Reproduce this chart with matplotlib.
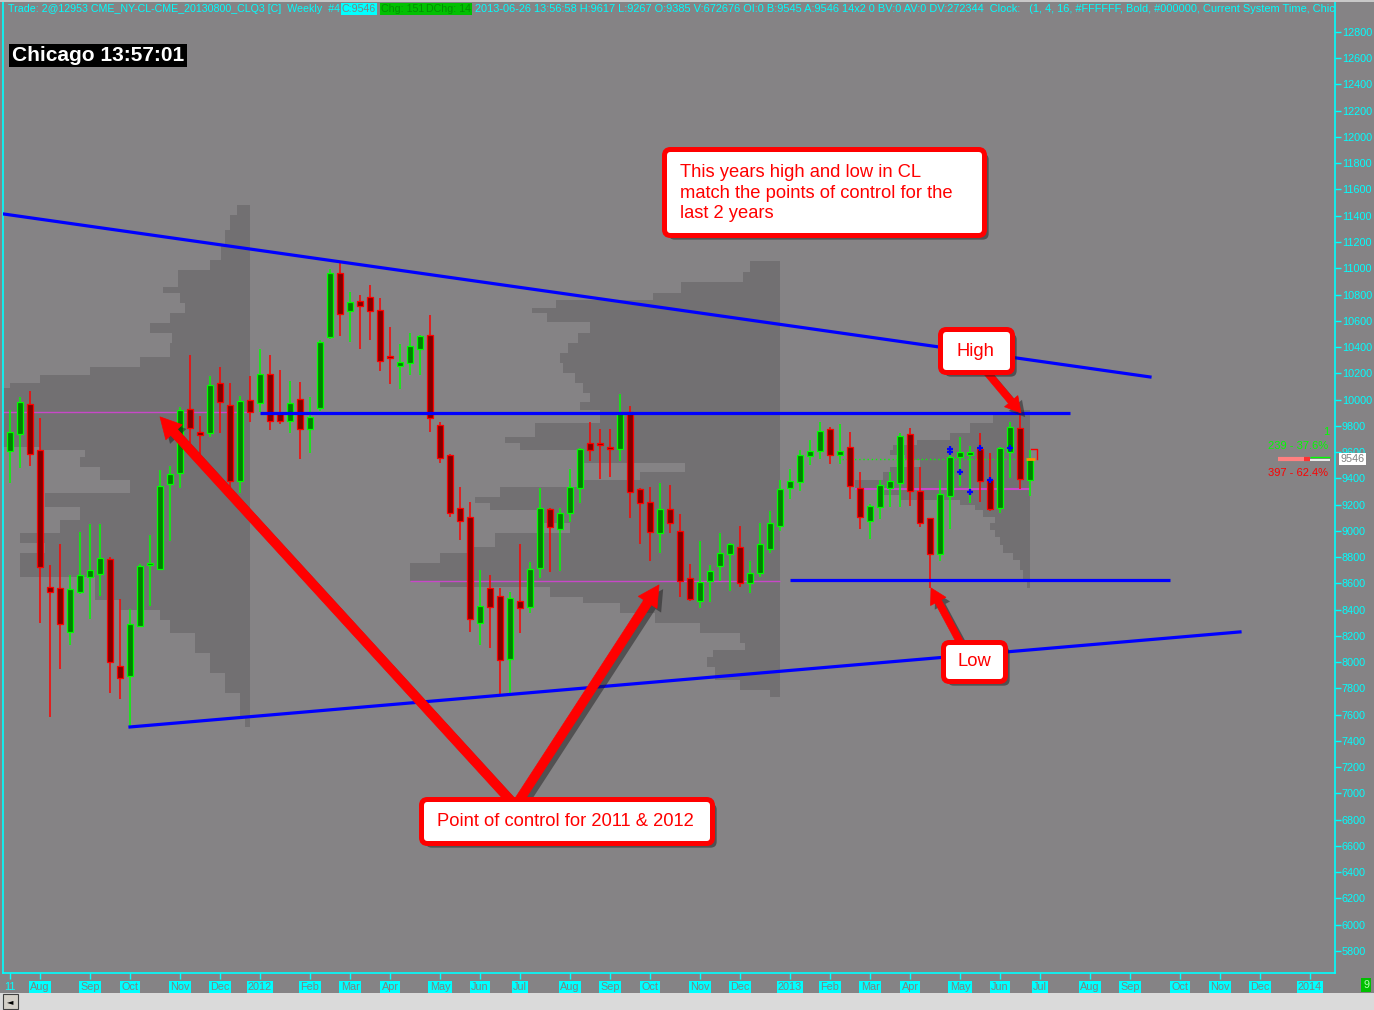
import numpy as np
import matplotlib
matplotlib.use("Agg")
import matplotlib.pyplot as plt
import matplotlib.patheffects as pe
from matplotlib.patches import Rectangle, FancyBboxPatch
from matplotlib.transforms import IdentityTransform, blended_transform_factory

plt.rcParams['font.family'] = ['Liberation Sans', 'DejaVu Sans']

W, H = 1374, 1010
BG = '#858385'
PROFILE = '#727072'
CYAN = '#00ffff'
UP_EDGE, UP_FILL = '#00ff00', '#008000'
DN_EDGE, DN_FILL = '#ff0000', '#800000'
BLUE = '#0000ff'
MAGENTA = '#c848c8'

# ---- weekly CL bars (prices x100), first bar = week of 2011-07-11 ----
opens = [9608, 9738, 9969, 9619, 8570, 8562, 8230, 8532, 8646, 8672,
         8783, 7968, 7895, 8273, 8740, 8710, 9355, 9438, 9926, 9751,
         9748, 10124, 9956, 9377, 9994, 9972, 10192, 9895, 9837, 10002,
         9776, 9933, 10474, 10962, 10672, 10748, 10779, 10680, 10330, 10253,
         10279, 10385, 10489, 9804, 9578, 9172, 9103, 8296, 8567, 8507,
         8022, 8466, 8418, 8715, 9164, 9014, 9134, 9324, 9667, 9667,
         9634, 9621, 9908, 9316, 9217, 8981, 9164, 9002, 8644, 8466,
         8618, 8733, 8824, 8880, 8606, 8682, 8859, 9040, 9324, 9370,
         9568, 9606, 9774, 9576, 9636, 9324, 9075, 9179, 9324, 9367,
         9736, 9301, 9096, 8821, 9268, 9560, 9576, 9621, 9388, 9172,
         9603, 9781, 9385]
highs = [9921, 10022, 10065, 9857, 8740, 8900, 8664, 8991, 9050, 9050,
         8799, 8481, 8405, 8748, 8969, 9464, 9490, 9946, 10340, 9878,
         10180, 10248, 10126, 10027, 10180, 10383, 10340, 10228, 10142, 10134,
         10022, 10454, 10992, 11038, 10820, 10800, 10873, 10771, 10556, 10423,
         10505, 10492, 10644, 9827, 9586, 9332, 9217, 8702, 8664, 8562,
         8537, 8900, 8760, 9324, 9175, 9177, 9471, 9629, 9827, 9774,
         9774, 10043, 9951, 9325, 9332, 9362, 9349, 9129, 8748, 8923,
         8740, 8981, 8905, 9037, 8771, 9057, 9151, 9388, 9469, 9616,
         9692, 9829, 9790, 9814, 9753, 9449, 9205, 9388, 9451, 9743,
         9786, 9489, 9100, 9388, 9590, 9718, 9647, 9743, 9591, 9641,
         9832, 9895, 9617]
lows = [9362, 9476, 9497, 8296, 7580, 7945, 8128, 8519, 8326, 8506,
        7763, 7717, 7514, 8270, 8430, 8700, 8923, 9329, 9672, 9565,
        9718, 9743, 9337, 9286, 9832, 9908, 9768, 9812, 9748, 9548,
        9591, 9916, 10462, 10484, 10441, 10383, 10456, 10220, 10116, 10078,
        10185, 10185, 9756, 9520, 9108, 8931, 8232, 8131, 8110, 7750,
        7750, 8220, 8377, 8644, 8689, 8694, 9070, 9210, 9535, 9398,
        9413, 9535, 9101, 8900, 8773, 8829, 8986, 8499, 8469, 8410,
        8461, 8621, 8545, 8575, 8529, 8651, 8829, 9002, 9245, 9304,
        9499, 9550, 9512, 9507, 9245, 9012, 8941, 9093, 9185, 9184,
        9190, 9032, 8568, 8771, 9014, 9342, 9215, 9223, 9150, 9134,
        9405, 9317, 9267]
closes = [9751, 9979, 9586, 8727, 8534, 8291, 8555, 8664, 8700, 8791,
          8000, 7880, 8288, 8733, 8752, 9344, 9436, 9918, 9781, 9728,
          10109, 9979, 9380, 9987, 9903, 10192, 9834, 9834, 9972, 9774,
          9870, 10436, 10962, 10652, 10741, 10710, 10672, 10294, 10320, 10284,
          10406, 10482, 9860, 9555, 9134, 9075, 8326, 8430, 8418, 8016,
          8486, 8410, 8707, 9172, 9027, 9139, 9337, 9621, 9614, 9654,
          9626, 9895, 9294, 9210, 8989, 9164, 9057, 8621, 8479, 8613,
          8697, 8829, 8898, 8600, 8682, 8898, 9062, 9317, 9378, 9576,
          9609, 9758, 9576, 9606, 9342, 9103, 9190, 9347, 9378, 9723,
          9304, 9063, 8827, 9278, 9560, 9598, 9598, 9383, 9164, 9629,
          9789, 9393, 9546]
weeks = np.arange(1, len(opens) + 1)

# month markers (week index of first bar in each month)
month_pos = [1, 4, 9, 13, 18, 22, 26, 31, 35, 39, 44, 48, 52, 57, 61, 65, 70, 74,
             79, 83, 87, 91, 96, 100, 104, 109, 113, 118, 122, 126, 131]
month_labels = ['11', 'Aug', 'Sep', 'Oct', 'Nov', 'Dec', '2012', 'Feb', 'Mar', 'Apr',
                'May', 'Jun', 'Jul', 'Aug', 'Sep', 'Oct', 'Nov', 'Dec', '2013', 'Feb',
                'Mar', 'Apr', 'May', 'Jun', 'Jul', 'Aug', 'Sep', 'Oct', 'Nov', 'Dec', '2014']

# ---- yearly volume profiles: price level -> width (in weeks) from year end ----
vp2011_price = [11482, 11406, 11292, 11178, 11063, 10987, 10858, 10812, 10736, 10660,
                10584, 10507, 10431, 10325, 10248, 10187, 10126, 10088, 10058, 9903,
                9639, 9616, 9563, 9487, 9388, 9289, 9182, 9083, 8984, 8908,
                8832, 8649, 8474, 8398, 8321, 8222, 8070, 7918, 7765, 7583, 7506]
vp2011_width = [0.5, 1.3, 2.0, 2.5, 2.9, 4.0, 7.2, 8.7, 7.0, 6.5,
                8.0, 10.0, 7.8, 8.0, 11.0, 16.0, 21.0, 24.0, 26.0, 27.0,
                26.0, 21.0, 16.5, 17.0, 15.0, 12.0, 20.5, 17.0, 19.0, 23.0,
                20.5, 23.0, 15.5, 13.0, 9.0, 8.0, 5.5, 4.0, 2.5, 1.0, 0.5]
vp2012_price = [11056, 10972, 10896, 10812, 10759, 10698, 10660, 10591, 10507, 10431,
                10355, 10279, 10203, 10126, 10050, 9982, 9921, 9822, 9715, 9670,
                9616, 9517, 9449, 9388, 9334, 9258, 9212, 9159, 9060, 8984,
                8877, 8832, 8755, 8618, 8573, 8497, 8451, 8375, 8298, 8222,
                8146, 8093, 8039, 7963, 7864, 7788, 7735]
vp2012_width = [0.7, 3.0, 3.7, 9.9, 12.7, 22.4, 24.8, 23.3, 19.0, 20.2,
                21.2, 22.0, 21.7, 20.5, 19.7, 19.0, 20.0, 18.0, 24.5, 27.5,
                26.0, 20.0, 9.5, 14.0, 20.0, 28.0, 30.5, 29.0, 24.0, 21.0,
                28.5, 30.7, 34.0, 37.0, 34.0, 23.0, 19.7, 16.0, 12.5, 8.0,
                4.0, 3.5, 6.7, 7.3, 6.5, 4.0, 1.0]
vp2013_price = [9921, 9883, 9822, 9746, 9692, 9654, 9616, 9578, 9540, 9487,
                9449, 9388, 9322, 9273, 9235, 9197, 9159, 9106, 9060, 9007,
                8953, 8892, 8832, 8778, 8702, 8626, 8565]
vp2013_width = [0.3, 1.0, 3.7, 6.0, 8.0, 11.3, 13.7, 14.0, 12.5, 11.0,
                14.0, 14.7, 17.5, 15.0, 13.0, 7.0, 5.5, 4.7, 3.5, 4.0,
                3.5, 3.0, 2.7, 1.7, 1.0, 0.7, 0.3]
year_end = {2011: 25, 2012: 78, 2013: 103}
poc = {2011: 9903, 2012: 8618, 2013: 9322}

# ---- drawn trend / level lines ----
upper_trend_x, upper_trend_y = [0.3, 115], [11414, 10172]
lower_trend_x, lower_trend_y = [13, 124], [7506, 8230]
high_level, high_span = 9896, (26, 107)
low_level, low_span = 8624, (79, 117)

# trade markers and last price
mark_k = [95, 95, 96, 97, 98, 99, 101]
mark_p = [9624, 9603, 9446, 9294, 9634, 9388, 9634]
last_price = 9546
buy_count, sell_count = 239, 397

fig = plt.figure(figsize=(W / 100, H / 100), dpi=100, facecolor=BG)
ax = fig.add_axes([3 / W, 37 / H, 1332 / W, 971 / H])
ax.set_facecolor(BG)
ax.set_xlim(0.3, 133.5)
ax.set_ylim(5632, 13028)

# volume profiles
for yr, pr, wd in ((2011, vp2011_price, vp2011_width),
                   (2012, vp2012_price, vp2012_width),
                   (2013, vp2013_price, vp2013_width)):
    end = year_end[yr]
    pr = np.asarray(pr, float)
    wd = np.asarray(wd, float)
    ax.fill_betweenx(pr, end - wd, end, step='pre', color=PROFILE, lw=0, zorder=1)
ax.hlines(poc[2011], 0.3, year_end[2011], colors=MAGENTA, lw=1, zorder=2)
ax.hlines(poc[2012], 41, year_end[2012], colors=MAGENTA, lw=1, zorder=2)
ax.hlines(poc[2013], 85.5, year_end[2013], colors=MAGENTA, lw=1.5, zorder=2)

# candles
for k, o, h, l, c in zip(weeks, opens, highs, lows, closes):
    up = c >= o
    edge = UP_EDGE if up else DN_EDGE
    fill = UP_FILL if up else DN_FILL
    ax.vlines(k, l, h, colors=edge, lw=1.1, zorder=3)
    bottom = min(o, c)
    height = max(abs(c - o), 12)
    ax.add_patch(Rectangle((k - 0.3, bottom), 0.6, height, fc=fill, ec=edge,
                           lw=0.9, zorder=3.1))

ax.plot(mark_k, mark_p, ls='none', marker='+', ms=4, mew=1.6, color=BLUE, zorder=4)
ax.hlines(last_price, 84.2, weeks[-1], colors=UP_EDGE, lw=1,
          linestyles=(0, (1, 2)), zorder=2.5)
ax.hlines(last_price, weeks[-1] - 0.45, weeks[-1] + 0.45, colors='#ff8c00', lw=2, zorder=4)
ax.plot([weeks[-1] + 0.07, weeks[-1] + 0.67, weeks[-1] + 0.67], [9621, 9621, 9549],
        color=DN_EDGE, lw=1, zorder=4)

# trend lines and levels
ax.plot(upper_trend_x, upper_trend_y, color=BLUE, lw=2.3, zorder=4.5)
ax.plot(lower_trend_x, lower_trend_y, color=BLUE, lw=2.3, zorder=4.5)
ax.hlines(high_level, *high_span, colors=BLUE, lw=2.3, zorder=4.5)
ax.hlines(low_level, *low_span, colors=BLUE, lw=2.3, zorder=4.5)

# buy / sell ratio readout on the right
tot = buy_count + sell_count
ax.text(132.9, 9750, '1', color=UP_EDGE, fontsize=8, ha='right', va='center', zorder=5)
ax.text(132.8, 9647, f'{buy_count} - {100 * buy_count / tot:.1f}%', color=UP_EDGE,
        fontsize=8, ha='right', va='center', zorder=5)
ax.text(132.8, 9441, f'{sell_count} - {100 * sell_count / tot:.1f}%', color=DN_EDGE,
        fontsize=8, ha='right', va='center', zorder=5)
bar_l, bar_r = 127.8, 133.0
split = bar_l + (bar_r - bar_l) * sell_count / tot
ax.hlines(last_price, bar_l, split, colors='#ff8080', lw=3, zorder=5)
ax.hlines(last_price, split - 0.6, split, colors='#ff3030', lw=3, zorder=5)
ax.hlines(last_price - 10, split, bar_r, colors='white', lw=1.2, zorder=5)
ax.hlines(last_price + 14, split, bar_r, colors=UP_EDGE, lw=1, zorder=5)
ax.text(1.004, last_price, f'{last_price}', transform=blended_transform_factory(ax.transAxes, ax.transData),
        color='#808080', fontsize=7.8, ha='left', va='center', clip_on=False, zorder=10,
        bbox=dict(boxstyle='square,pad=0.12', fc='white', ec='none'))

# axes styling
for side in ('left', 'right', 'bottom'):
    ax.spines[side].set_color(CYAN)
    ax.spines[side].set_linewidth(1.2)
ax.spines['top'].set_visible(False)
ax.yaxis.tick_right()
yt = np.arange(5800, 12801, 200)
ax.set_yticks(yt)
ax.set_yticklabels([str(v) for v in yt])
ax.tick_params(axis='y', colors=CYAN, labelcolor=CYAN, labelsize=7.8, length=4,
               width=1, pad=1, direction='out')
ax.set_xticks(month_pos)
ax.set_xticklabels(month_labels)
ax.tick_params(axis='x', colors=CYAN, labelcolor='#808080', labelsize=7.8, length=4,
               width=1, pad=2.5, direction='out')
for i, t in enumerate(ax.get_xticklabels()):
    if i == 0:
        t.set_color(CYAN)
    else:
        t.set_bbox(dict(boxstyle='square,pad=0.12', fc=CYAN, ec='none'))

shadow = [pe.SimplePatchShadow(offset=(3, -3), shadow_rgbFace='#202020', alpha=0.5), pe.Normal()]


def arrow(tip, tail_px, tail_w, head_w, head_l):
    ax.annotate('', xy=tip, xycoords='data', xytext=(tail_px[0], H - tail_px[1]),
                textcoords='figure pixels', annotation_clip=False, zorder=6,
                arrowprops=dict(arrowstyle=f'simple,head_length={head_l},head_width={head_w},'
                                           f'tail_width={tail_w}',
                                mutation_scale=10, fc='#ff0000', ec='#ff0000', lw=0.5,
                                shrinkA=0, shrinkB=0, path_effects=shadow))


arrow((16.0, 9868), (512, 802), 0.65, 1.6, 1.5)
arrow((65.9, 8588), (518, 802), 0.65, 1.6, 1.5)
arrow((102.1, 9898), (985, 370), 0.5, 1.25, 1.1)
arrow((93.1, 8565), (960, 642), 0.5, 1.25, 1.1)


def callout(x0, y0, x1, y1, text, tx, ty, ha='left'):
    box = FancyBboxPatch((x0 + 2.5, H - y1 + 2.5), x1 - x0 - 5, y1 - y0 - 5,
                         boxstyle='round,pad=0,rounding_size=6', transform=IdentityTransform(),
                         fc='white', ec='#ff0000', lw=3.6, zorder=7, path_effects=shadow)
    fig.add_artist(box)
    fig.text(tx, H - ty, text, transform=IdentityTransform(), color='#ff0000',
             fontsize=13.2, ha=ha, va='center', linespacing=1.3, zorder=8)


callout(662, 147, 987, 238, 'This years high and low in CL\nmatch the points of control for the\nlast 2 years',
        680, 193)
callout(938, 327, 1015, 375, 'High', 975, 351, ha='center')
callout(941, 640, 1008, 684, 'Low', 974.5, 661, ha='center')
callout(419, 797, 715, 846, 'Point of control for 2011 & 2012', 565, 821, ha='center')

# clock
fig.add_artist(Rectangle((9, H - 67), 178, 23, transform=IdentityTransform(), fc='black',
                         ec='none', zorder=7))
fig.text(12, H - 55.5, 'Chicago 13:57:01', transform=IdentityTransform(), color='white',
         fontsize=15, fontweight='bold', ha='left', va='center', zorder=8)

# header line
hdr = dict(transform=IdentityTransform(), va='center', clip_on=True, zorder=8)
ax.text(8, H - 9, 'Trade: 2@12953 CME_NY-CL-CME_20130800_CLQ3 [C]  Weekly  #4', color=CYAN,
        fontsize=7.7, **hdr)
ax.text(342, H - 9, 'C:9546', color='#808080', fontsize=7.7,
        bbox=dict(boxstyle='square,pad=0.1', fc=CYAN, ec='none'), **hdr)
ax.text(381, H - 9, 'Chg: 151', color='#009000', fontsize=7.7,
        bbox=dict(boxstyle='square,pad=0.1', fc='#00c000', ec='none'), **hdr)
ax.text(426, H - 9, 'DChg: 14', color='#009000', fontsize=7.7,
        bbox=dict(boxstyle='square,pad=0.1', fc='#00c000', ec='none'), **hdr)
ax.text(475, H - 9, '2013-06-26 13:56:58 H:9617 L:9267 O:9385 V:672676 OI:0 B:9545 A:9546 '
                    '14x2 0 BV:0 AV:0 DV:272344  Clock:   (1, 4, 16, #FFFFFF, Bold, #000000, '
                    'Current System Time, Chicago)', color=CYAN, fontsize=7.95, **hdr)

# window chrome: top border, scrollbar, corner badge
fig.add_artist(Rectangle((0, H - 2), W, 2, transform=IdentityTransform(), fc='#c8c8c8',
                         ec='none', zorder=9))
fig.add_artist(Rectangle((0, 0), W, 17, transform=IdentityTransform(), fc='#dadada',
                         ec='none', zorder=9))
fig.add_artist(Rectangle((3, 1), 15, 15, transform=IdentityTransform(), fc='#d4d0c8',
                         ec='#404040', lw=0.8, zorder=9.5))
fig.text(10.5, 8.5, '\u25c4', transform=IdentityTransform(), family='DejaVu Sans',
         fontsize=6, color='black', ha='center', va='center', zorder=10)
fig.text(1366, H - 985, '9', transform=IdentityTransform(), fontsize=7.8, color='#b0ffb0',
         ha='center', va='center', zorder=10,
         bbox=dict(boxstyle='square,pad=0.2', fc='#00c000', ec='none'))

fig.savefig('out.png', dpi=100, facecolor=BG)
